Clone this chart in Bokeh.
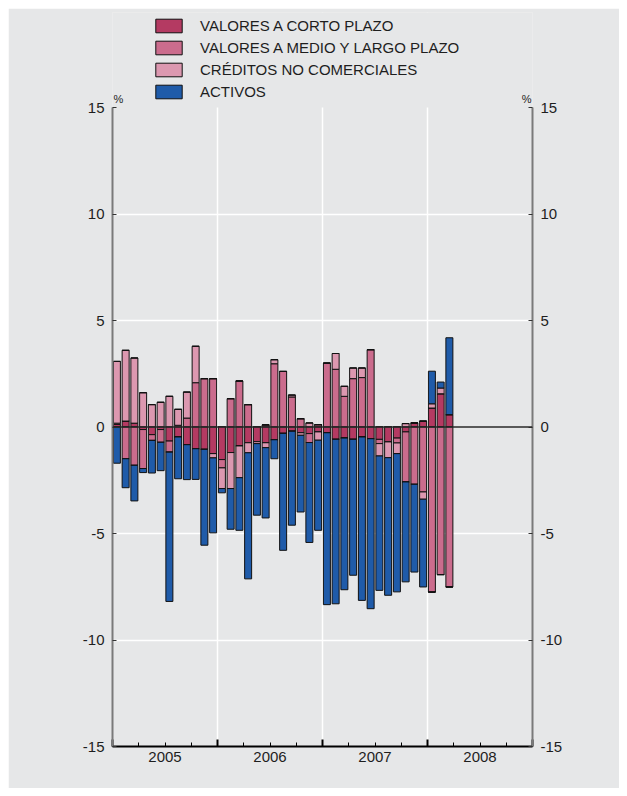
from bokeh.plotting import figure
from bokeh.models import (ColumnDataSource, FixedTicker, LinearAxis, Span, Label, Range1d,
                          Legend, LegendItem, BoxAnnotation)
from bokeh.embed import file_html
from bokeh.resources import INLINE

# ---------------- data (monthly, Jan 2005 - Mar 2008) ----------------
months = [f"{y}-{m:02d}" for y in (2005, 2006, 2007) for m in range(1, 13)] + ["2008-01", "2008-02", "2008-03"]

corto = [0.12, 0.28, 0.18, -0.12, -0.36, -0.12, -0.66, -0.47, -0.83, -1.02, -1.05, -1.25,
         -1.53, -1.20, -0.89, -0.74, -0.69, -0.74, -0.60, -0.30, -0.20, -0.27, -0.31, -0.23,
         -0.27, -0.58, -0.52, -0.58, -0.47, -0.55, -0.58, -0.70, -0.52, -0.23, 0.19, 0.27,
         0.89, 1.56, 0.58]
medio = [0.06, -1.49, -1.80, -1.83, -0.27, -0.60, -0.52, 0.08, 0.42, 2.08, 2.27, 2.27,
         -0.39, 1.33, 2.16, 1.05, 0.00, 0.10, 2.97, 2.61, 1.41, 0.39, -0.42, 0.11,
         3.00, 2.71, 1.44, 2.27, 2.32, 3.63, -0.20, 0.00, -0.23, -2.35, -2.69, -3.05,
         -7.75, -6.93, -7.51]
creditos = [2.90, 3.32, 3.06, 1.61, 1.05, 1.16, 1.44, 0.75, 1.22, 1.71, 0.00, -0.20,
            -0.97, -1.69, -1.49, -0.47, -0.09, -0.23, 0.19, 0.00, 0.09, -0.12, 0.19, -0.39,
            0.00, 0.74, 0.47, 0.50, 0.45, 0.00, -0.58, -0.74, -0.50, 0.16, 0.00, -0.34,
            0.20, 0.27, 0.00]
activos = [-1.70, -1.36, -1.67, -0.19, -1.53, -1.33, -7.01, -1.96, -1.64, -1.44, -4.50, -3.52,
           -0.20, -1.91, -2.47, -5.92, -3.36, -3.30, -0.89, -5.49, -4.41, -3.60, -4.69, -4.23,
           -8.07, -7.72, -7.12, -6.38, -7.67, -7.98, -6.31, -6.46, -6.49, -4.69, -4.12, -4.12,
           1.53, 0.28, 3.61]

series_names = ["VALORES A CORTO PLAZO", "VALORES A MEDIO Y LARGO PLAZO",
                "CRÉDITOS NO COMERCIALES", "ACTIVOS"]
years = ["2005", "2006", "2007", "2008"]
y_ticks = [-15, -10, -5, 0, 5, 10, 15]
y_tick_labels = ["-15", "-10", "-5", "0", "5", "10", "15"]

# ---------------- styling ----------------
BG = "#E6E7E8"
COLORS = ["#B43A62", "#CB6C8D", "#DC98B0", "#1F5BA9"]
FONT = "Liberation Sans"
TXT = "#1E1E1E"

Y_MIN, Y_MAX = -15, 15
PLOT_H = 639                    # pixel height of the -15..15 span
TOP_EXTRA = 95                  # extra frame room above 15 for the legend
y_end = Y_MAX + TOP_EXTRA * (Y_MAX - Y_MIN) / PLOT_H

keys = ["corto", "medio", "cred", "act"]
data = {"x": [i + 0.5 for i in range(len(months))]}
for k, vals in zip(keys, [corto, medio, creditos, activos]):
    data[k + "_pos"] = [max(v, 0.0) for v in vals]
    data[k + "_neg"] = [min(v, 0.0) for v in vals]
src = ColumnDataSource(data)

p = figure(width=611, height=780, x_range=Range1d(0, 48), y_range=Range1d(Y_MIN, y_end),
           output_backend="svg", toolbar_location=None,
           background_fill_color=BG, border_fill_color=BG,
           min_border_left=104, min_border_right=87, min_border_top=4, min_border_bottom=42,
           outline_line_color=None, margin=(8, 8, 8, 8))

# grids
p.xgrid.ticker = FixedTicker(ticks=[12, 24, 36])
p.ygrid.ticker = FixedTicker(ticks=[-10, -5, 5, 10])
for g in (p.xgrid, p.ygrid):
    g.grid_line_color = "white"
    g.grid_line_width = 1.5

# mask grid lines above the top of the value scale
p.add_layout(BoxAnnotation(bottom=Y_MAX, fill_color=BG, fill_alpha=1, line_color=None,
                           level="underlay"))

pos_r = p.vbar_stack([k + "_pos" for k in keys], x="x", width=0.8, source=src, color=COLORS,
                     line_color="#111111", line_width=1)
neg_r = p.vbar_stack([k + "_neg" for k in keys], x="x", width=0.8, source=src, color=COLORS,
                     line_color="#111111", line_width=1)

# zero line
p.add_layout(Span(location=0, dimension="width", line_color="#2a2a2a", line_width=1.5))

# bottom axis: ticks only
xa = p.xaxis[0]
xa.ticker = FixedTicker(ticks=[0, 12, 24, 36, 48], minor_ticks=list(range(0, 49, 3)))
xa.major_label_text_font_size = "1px"
xa.major_label_text_color = None
xa.major_label_standoff = 0
xa.axis_line_color = "black"
xa.axis_line_width = 2
xa.major_tick_in = 7
xa.major_tick_out = 0
xa.major_tick_line_color = "black"
xa.major_tick_line_width = 2
xa.minor_tick_in = 4
xa.minor_tick_out = 0
xa.minor_tick_line_color = "black"
xa.minor_tick_line_width = 1

# bottom axis: year labels
year_pos = [12 * i + 6 for i in range(len(years))]
xl = LinearAxis(ticker=FixedTicker(ticks=year_pos, minor_ticks=[]),
                major_label_overrides={pos: yr for pos, yr in zip(year_pos, years)})
xl.axis_line_color = None
xl.major_tick_line_color = None
xl.major_tick_in = 0
xl.major_tick_out = 0
xl.major_label_standoff = 5
xl.major_label_text_font = FONT
xl.major_label_text_font_size = "15px"
xl.major_label_text_color = TXT
p.add_layout(xl, "below")

# y axes
ya = p.yaxis[0]
yr_ax = LinearAxis()
p.add_layout(yr_ax, "right")
for ax in (ya, yr_ax):
    ax.ticker = FixedTicker(ticks=y_ticks, minor_ticks=[])
    ax.bounds = (Y_MIN, Y_MAX)
    ax.major_label_overrides = {t: s for t, s in zip(y_ticks, y_tick_labels)}
    ax.axis_line_color = "#7a7a7a"
    ax.axis_line_width = 2
    ax.major_tick_in = 4
    ax.major_tick_out = 0
    ax.major_tick_line_color = "#333333"
    ax.major_tick_line_width = 1
    ax.major_label_text_font = FONT
    ax.major_label_text_font_size = "15px"
    ax.major_label_text_color = TXT
    ax.major_label_standoff = 8

# % labels (kept inside the frame so they are not clipped)
p.add_layout(Label(x=0, y=Y_MAX, text="%", text_align="left", text_baseline="bottom",
                   x_offset=1, y_offset=3, text_font=FONT, text_font_size="11px", text_color=TXT))
p.add_layout(Label(x=48, y=Y_MAX, text="%", text_align="right", text_baseline="bottom",
                   x_offset=-1, y_offset=3, text_font=FONT, text_font_size="11px", text_color=TXT))

# legend (inside the frame, above the value scale)
items = [LegendItem(label=name, renderers=[r]) for name, r in zip(series_names, pos_r)]
lg = Legend(items=items, location=(40, 646))
lg.padding = 0
lg.margin = 0
lg.border_line_color = None
lg.background_fill_alpha = 0
lg.glyph_width = 33
lg.glyph_height = 17
lg.label_height = 17
lg.spacing = 5
lg.label_standoff = 15
lg.label_text_font = FONT
lg.label_text_font_size = "15px"
lg.label_text_color = TXT
p.add_layout(lg, "center")

open("out.html", "w").write(file_html(p, INLINE))
